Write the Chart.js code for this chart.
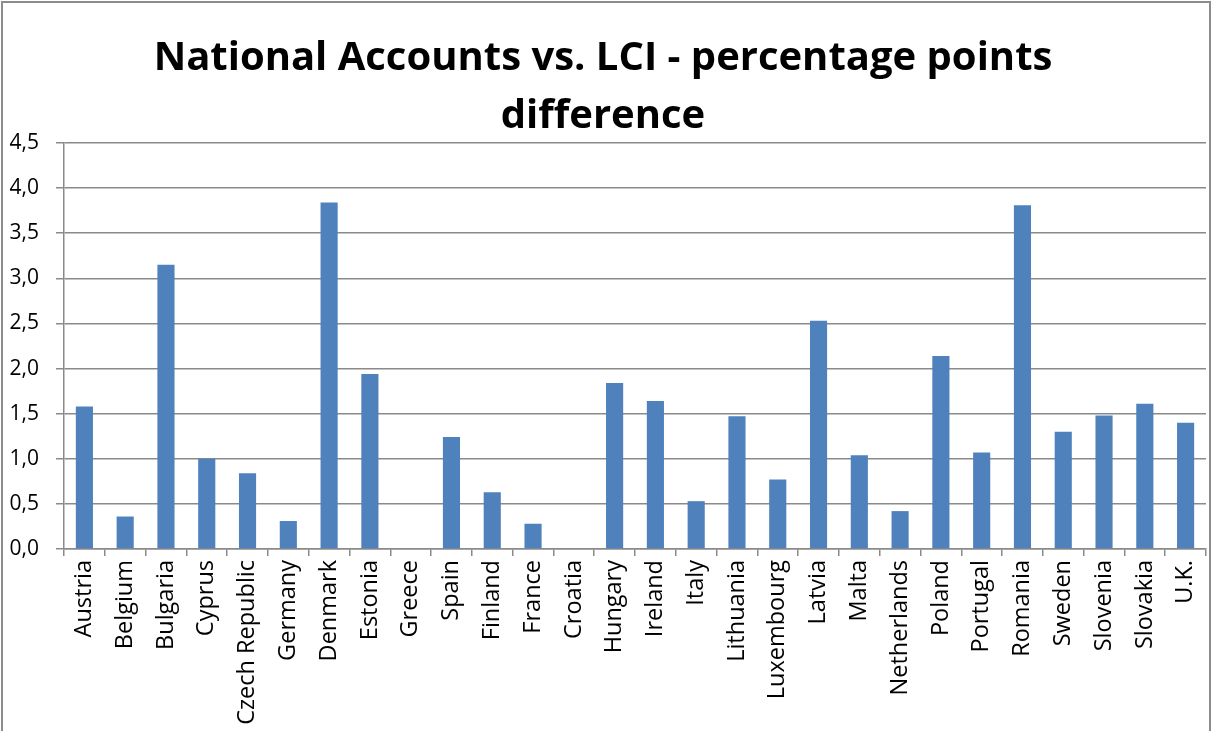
<!DOCTYPE html>
<html>
<head>
<meta charset="utf-8">
<script src="https://cdn.jsdelivr.net/npm/chart.js@4.4.1/dist/chart.umd.min.js"></script>
<style>
  html, body { margin: 0; padding: 0; background: #fff; }
  #wrap { position: relative; width: 1212px; height: 731px; }
</style>
</head>
<body>
<div id="wrap"><canvas id="c" width="1212" height="731"></canvas></div>
<script>
const titleLines = ['National Accounts vs. LCI - percentage points', 'difference'];
const categories = ['Austria','Belgium','Bulgaria','Cyprus','Czech Republic','Germany','Denmark','Estonia','Greece','Spain','Finland','France','Croatia','Hungary','Ireland','Italy','Lithuania','Luxembourg','Latvia','Malta','Netherlands','Poland','Portugal','Romania','Sweden','Slovenia','Slovakia','U.K.'];
const values = [1.58, 0.36, 3.15, 1.00, 0.84, 0.31, 3.84, 1.94, 0, 1.24, 0.63, 0.28, 0, 1.84, 1.64, 0.53, 1.47, 0.77, 2.53, 1.04, 0.42, 2.14, 1.07, 3.81, 1.30, 1.48, 1.61, 1.40];
const yMin = 0, yMax = 4.5, yStep = 0.5;

const frame = {
  id: 'frame',
  beforeDraw(chart) {
    const ctx = chart.ctx;
    ctx.save();
    ctx.fillStyle = '#fff';
    ctx.fillRect(0, 0, chart.width, chart.height);
    ctx.strokeStyle = '#8c8c8c';
    ctx.lineWidth = 2;
    ctx.strokeRect(2, 2, 1208, 760);
    ctx.restore();
  }
};

new Chart(document.getElementById('c'), {
  type: 'bar',
  data: {
    labels: categories,
    datasets: [{
      data: values,
      backgroundColor: '#4F81BD',
      borderWidth: 0,
      barPercentage: 0.42,
      categoryPercentage: 1.0
    }]
  },
  options: {
    responsive: false,
    animation: false,
    layout: { padding: { left: 0, right: 6, top: 0, bottom: 0 } },
    plugins: {
      legend: { display: false },
      tooltip: { enabled: false },
      title: {
        display: true,
        text: titleLines,
        color: '#000',
        font: { family: "'Open Sans', sans-serif", size: 40, weight: 'bold', lineHeight: 1.45 },
        padding: { top: 30, bottom: -3 }
      }
    },
    scales: {
      x: {
        grid: { display: true, drawOnChartArea: false, drawTicks: true, tickLength: 7, offset: true, color: '#8a8a8a', lineWidth: 1.5 },
        border: { display: true, color: '#8a8a8a', width: 1.5 },
        ticks: {
          color: '#000',
          font: { family: "'Open Sans', sans-serif", size: 23.5 },
          maxRotation: 90, minRotation: 90, autoSkip: false, padding: 4
        },
        afterFit(scale) { scale.height = 182; scale.paddingRight = 0; scale.paddingLeft = 0; }
      },
      y: {
        min: yMin, max: yMax,
        grid: { color: '#8a8a8a', lineWidth: 1.5, tickLength: 8 },
        border: { display: true, color: '#8a8a8a', width: 1.5 },
        ticks: {
          stepSize: yStep,
          color: '#000',
          font: { family: "'Open Sans', sans-serif", size: 21 },
          padding: 17,
          callback: v => Number(v).toFixed(1).replace('.', ',')
        },
        afterFit(scale) { scale.width = 64; }
      }
    }
  },
  plugins: [frame]
});
</script>
</body>
</html>
